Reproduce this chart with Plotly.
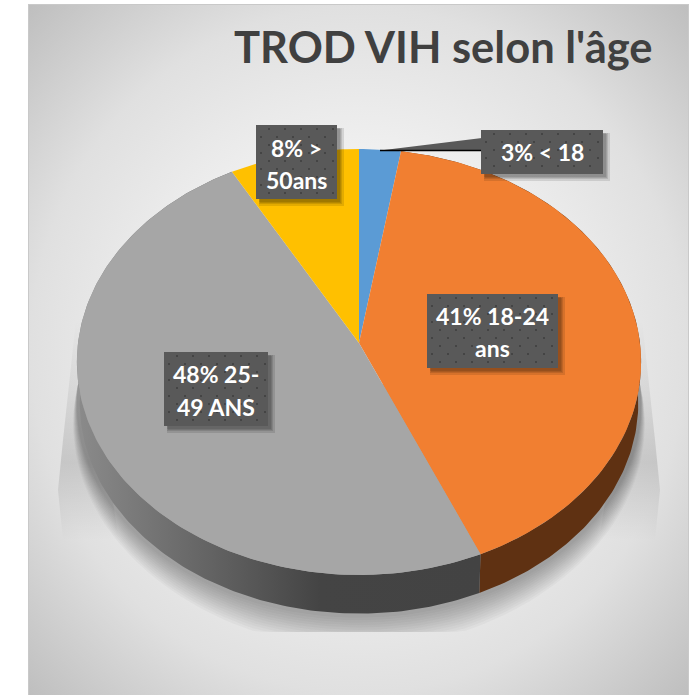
import math
import plotly.graph_objects as go

# ---- data ----
categories = ["< 18", "18-24 ans", "25-49 ANS", "> 50ans"]
values = [2.6, 40.9, 48.4, 8.1]
colors = ["#5B9BD5", "#F17F31", "#A6A6A6", "#FFC000"]
title_text = "TROD VIH selon l'âge"
label_lines = [["3% < 18"], ["41% 18-24", "ans"], ["48% 25-", "49 ANS"], ["8% >", "50ans"]]

# ---- layout constants (pixels, the axes are set up 1:1 with the page) ----
W, H = 699, 695
L, T, R = 29, 5, 688
CX, CY = 359, 343        # pie centre on the top face
SX, SY, K = 281, 211.3, 0.089   # radii and perspective strength
DEPTH = 41
boxes = [(481, 130, 603, 174), (427, 294, 558, 368), (164, 352, 268, 426), (256, 125, 337, 199)]
line_y = [[152], [316, 348], [374, 407], [148, 180]]
BOX_COLOR, DOT_COLOR = "#595959", "#444444"


def project(pct, scale=1.0, dy=0.0):
    """Clockwise angle from the top (in % of the pie) -> page pixel through a perspective view."""
    a = pct / 100 * 2 * math.pi
    u, v = math.sin(a), math.cos(a)
    w = 1 + K * v
    return CX + SX * scale * u / w, CY - SY * scale * v / w + dy


def arc(p0, p1, **kw):
    n = max(2, int(abs(p1 - p0) * 4))
    return [project(p0 + (p1 - p0) * i / n, **kw) for i in range(n + 1)]


def poly(points, **kw):
    xs = [p[0] for p in points] + [points[0][0]]
    ys = [p[1] for p in points] + [points[0][1]]
    return go.Scatter(x=xs, y=ys, mode="lines", fill="toself", line=dict(width=0),
                      hoverinfo="skip", showlegend=False, **kw)


fig = go.Figure()

# background card: radial gradient, bigger than the visible area so the corners reach the dark stops
mx, my = (L + R) / 2, (T + H) / 2
ex, ey = (R - L) / 2 * 1.42, (H - T) / 2 * 1.42
fig.add_trace(poly([(mx - ex, my - ey), (mx + ex, my - ey), (mx + ex, my + ey), (mx - ex, my + ey)],
                   fillgradient=dict(type="radial",
                                     colorscale=[[0, "#F4F4F4"], [0.4, "#F0F0F0"], [0.7, "#E0E0E0"], [1, "#BEBEBE"]])))

# soft shadow under the pie: tapered flanks
for sgn in (-1, 1):
    fig.add_trace(poly([(CX + sgn * 275, 320), (CX + sgn * 283, 320), (CX + sgn * 296, 440), (CX + sgn * 301, 490),
                        (CX + sgn * 296, 540), (CX + sgn * 240, 540)],
                       fillgradient=dict(type="vertical", start=320, stop=540,
                                         colorscale=[[0, "rgba(0,0,0,0)"], [0.65, "rgba(0,0,0,0.12)"],
                                                     [0.8, "rgba(0,0,0,0.07)"], [1, "rgba(0,0,0,0)"]])))
# soft shadow under the pie: blurred rim, growing from nothing at the flanks, cut flat at the bottom
for d in range(2, 38, 3):
    rim = []
    for i in range(101):
        p = 25 + i * 0.5
        grow = min(1.0, min(p - 25, 75 - p) / 20)
        x, y = project(p, scale=1 + d * grow / 282, dy=DEPTH)
        rim.append((x, min(y, 632)))
    fig.add_trace(poly(rim, fillcolor="rgba(0,0,0,0.028)"))

# side walls
cum = [0]
for v in values:
    cum.append(cum[-1] + v)
side_fill = {
    1: dict(fillcolor="#5F3112"),
    2: dict(fillgradient=dict(type="horizontal", start=80, stop=480,
                              colorscale=[[0, "#8A8A8A"], [0.3, "#666666"], [0.6, "#444444"], [1, "#434343"]])),
}
for i, style in side_fill.items():
    fig.add_trace(poly(arc(cum[i], cum[i + 1]) + arc(cum[i + 1], cum[i], scale=0.99, dy=DEPTH), **style))

# top faces
for i, (cat, col) in enumerate(zip(categories, colors)):
    fig.add_trace(poly([(CX, CY)] + arc(cum[i], cum[i + 1]), fillcolor=col, name=cat))

# callout of the first label
bx0, by0, bx1, by1 = boxes[0]
tip = (380, 150.5)
fig.add_trace(poly([tip, (bx0 + 1, 138), (bx0 + 1, 150.5)], fillcolor=BOX_COLOR))
fig.add_trace(go.Scatter(x=[tip[0], bx0 + 1], y=[150.5, 150.5], mode="lines", line=dict(color="#000000", width=1.5),
                         hoverinfo="skip", showlegend=False))

# label boxes: shadow, plate, dots, text
annotations = []
for (x0, y0, x1, y1), lines, ys in zip(boxes, label_lines, line_y):
    for off, grow in ((5, 2), (4, 1), (4, 0), (3, 0)):
        fig.add_trace(poly([(x0 + off - grow, y0 + off - grow), (x1 + off + grow, y0 + off - grow),
                            (x1 + off + grow, y1 + off + grow), (x0 + off - grow, y1 + off + grow)],
                           fillcolor="rgba(0,0,0,0.11)"))
    fig.add_trace(poly([(x0, y0), (x1, y0), (x1, y1), (x0, y1)], fillcolor=BOX_COLOR))
    dx, dy, r = [], [], 0
    yy = y0 + 4
    while yy < y1:
        xx = x0 + (5 if r % 2 else 13)
        while xx < x1:
            dx.append(xx)
            dy.append(yy)
            xx += 16
        yy += 8
        r += 1
    fig.add_trace(go.Scatter(x=dx, y=dy, mode="markers", hoverinfo="skip", showlegend=False,
                             marker=dict(symbol="square", size=2, color=DOT_COLOR, line=dict(width=0))))
    for txt, y in zip(lines, ys):
        annotations.append(dict(x=(x0 + x1) / 2, y=y, text=f"<b>{txt}</b>", showarrow=False, xref="x", yref="y",
                                xanchor="center", yanchor="middle",
                                font=dict(family="Lato", size=23, color="#FFFFFF")))

annotations.append(dict(x=443, y=46, text=f"<b>{title_text}</b>", showarrow=False, xref="x", yref="y",
                        xanchor="center", yanchor="middle", font=dict(family="Lato", size=43.5, color="#404040")))

axis = dict(showgrid=False, zeroline=False, showticklabels=False, ticks="", showline=True, mirror=True,
            linecolor="#C9C9C9", linewidth=1)
fig.update_layout(
    width=W, height=H, margin=dict(l=L, r=W - R, t=T, b=0), showlegend=False,
    paper_bgcolor="#FFFFFF", plot_bgcolor="#E6E6E6",
    xaxis=dict(range=[L, R], **axis), yaxis=dict(range=[H, T], **axis),
    annotations=annotations,
)
fig.write_html("out.html", config=dict(displayModeBar=False), post_script="document.body.style.margin='0';")
